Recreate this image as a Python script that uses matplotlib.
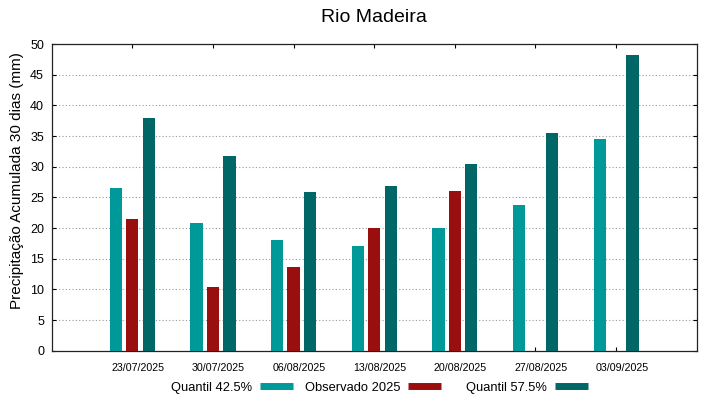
import matplotlib
matplotlib.use("Agg")
import matplotlib.pyplot as plt
from matplotlib.lines import Line2D
import numpy as np

plt.rcParams['font.family'] = ['Liberation Sans', 'DejaVu Sans']

# dados
datas = ['23/07/2025', '30/07/2025', '06/08/2025', '13/08/2025',
         '20/08/2025', '27/08/2025', '03/09/2025']
quantil_425 = [26.5, 20.8, 18.0, 17.0, 20.0, 23.8, 34.5]
observado_2025 = [21.5, 10.4, 13.6, 20.0, 26.1, np.nan, np.nan]
quantil_575 = [37.9, 31.8, 25.9, 26.9, 30.5, 35.5, 48.2]

cor_q1 = '#009999'
cor_obs = '#990f0f'
cor_q2 = '#006666'

fig = plt.figure(figsize=(7.19, 3.99), dpi=100)
ax = fig.add_axes([0.0719, 0.121, 0.8971, 0.7687])

x = np.arange(1, len(datas) + 1)
w = 0.152
d = 0.204
ax.bar(x - d, quantil_425, width=w, color=cor_q1, zorder=3)
ax.bar(x, observado_2025, width=w, color=cor_obs, zorder=3)
ax.bar(x + d, quantil_575, width=w, color=cor_q2, zorder=3)

ax.set_xlim(0, 8)
ax.set_ylim(0, 50)
ax.set_yticks(np.arange(0, 51, 5))
# marcas nas categorias; rótulos (minor) levemente à direita, como no original
ax.set_xticks(x)
ax.set_xticklabels([])
ax.set_xticks(x + 0.07, minor=True)
ax.set_xticklabels(datas, minor=True, fontsize=7.7)

ax.tick_params(axis='y', direction='in', left=True, right=True, length=3,
               labelsize=9, pad=5.5)
ax.tick_params(axis='x', which='major', direction='in', bottom=True, top=True,
               length=3)
ax.tick_params(axis='x', which='minor', length=0, pad=8.5)
for sp in ax.spines.values():
    sp.set_color('#222222')
    sp.set_linewidth(0.9)

ax.yaxis.grid(True, linestyle=(0, (1, 2)), color='#999999', linewidth=0.8,
              zorder=0)
ax.set_ylabel('Precipitação Acumulada 30 dias (mm)', fontsize=11)
ax.yaxis.set_label_coords(-0.0435, 0.555)
ax.set_title('Rio Madeira', fontsize=14, pad=15.5)

# legenda em três blocos, texto à esquerda da amostra
entradas = [('Quantil 42.5%', cor_q1, 293), ('Observado 2025', cor_obs, 441),
            ('Quantil 57.5%', cor_q2, 588)]
for nome, cor, xfim in entradas:
    h = Line2D([], [], color=cor, linewidth=5, solid_capstyle='butt')
    fig.legend([h], [nome], loc='center right',
               bbox_to_anchor=(xfim / 719, 1 - 387.5 / 399),
               frameon=False, markerfirst=False, fontsize=9.3,
               handlelength=2.55, handletextpad=0.6, borderpad=0,
               borderaxespad=0)

plt.savefig('out.png', dpi=100)
